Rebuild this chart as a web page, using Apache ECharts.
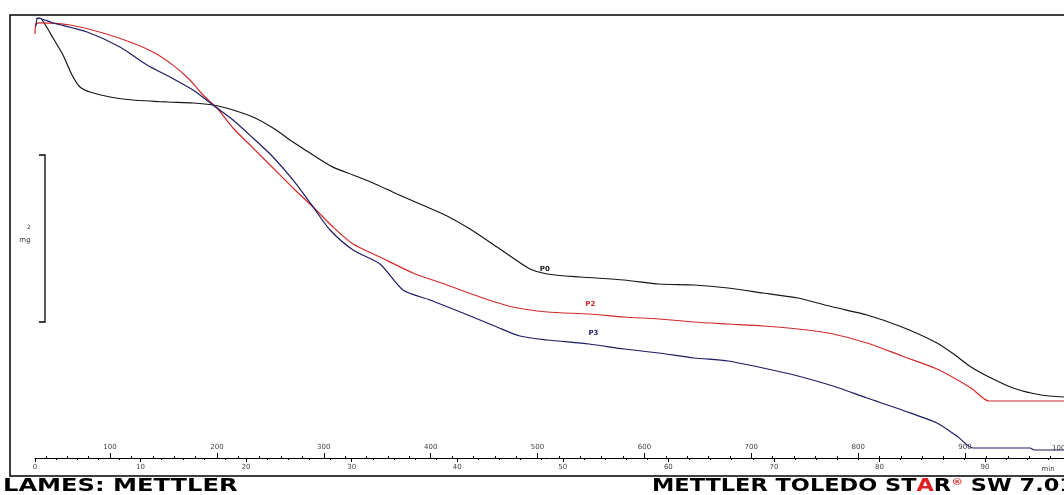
<!DOCTYPE html>
<html>
<head>
<meta charset="utf-8">
<script src="https://cdn.jsdelivr.net/npm/echarts@6/dist/echarts.min.js"></script>
<style>
  html, body { margin: 0; padding: 0; background: #fff; }
  #chart { width: 1064px; height: 495px; }
</style>
</head>
<body>
<div id="chart"></div>
<script>
// ---- data: [time (min), relative mass] ----
const curveP0 = [
  [0.09,100.23],[0.47,100.46],[1.04,98.63],[1.71,95.89],[2.65,92.01],[3.51,87.44],[4.26,84.70],
  [5.21,83.56],[7.11,82.42],[9.28,81.74],[12.50,81.28],[14.97,81.05],[16.86,80.59],[18.76,79.45],
  [20.65,77.85],[22.55,75.34],[24.44,72.15],[26.34,69.18],[28.23,66.41],[30.13,64.61],[32.02,62.79],
  [34.29,60.27],[36.47,57.99],[39.03,55.25],[41.21,52.28],[43.77,48.17],[45.28,45.66],[46.89,43.15],
  [48.50,42.01],[51.63,41.32],[55.80,40.64],[59.11,39.73],[62.43,39.50],[65.65,38.81],[68.97,37.67],
  [72.28,36.53],[75.60,34.47],[78.82,32.65],[82.13,29.91],[85.45,26.26],[87.15,23.52],[88.67,20.78],
  [90.38,18.49],[92.65,15.98],[95.30,14.38],[97.48,13.93]
];
const curveP2 = [
  [0.00,96.80],[0.09,99.09],[0.47,99.32],[3.32,98.86],[6.44,97.03],[9.00,94.98],[11.18,92.69],
  [13.07,89.70],[14.68,86.30],[15.92,82.88],[17.24,79.91],[18.76,75.34],[20.65,70.78],[22.55,66.21],
  [24.44,61.64],[26.34,57.31],[28.23,52.74],[30.13,48.86],[32.68,45.89],[35.81,42.24],[39.03,39.50],
  [42.16,36.76],[45.28,34.47],[48.50,33.33],[52.48,32.88],[55.80,32.19],[59.11,31.74],[62.43,31.05],
  [65.65,30.59],[68.97,30.14],[72.28,29.45],[75.60,28.31],[78.82,26.26],[82.13,23.29],[85.45,20.32],
  [88.67,15.98],[90.38,13.01],[97.48,13.01]
];
const curveP3 = [
  [0.09,98.63],[0.28,100.46],[1.71,99.32],[4.93,97.26],[8.05,93.84],[10.61,89.73],[12.79,86.99],
  [14.97,84.02],[16.86,80.59],[18.76,77.17],[20.65,73.06],[22.55,68.72],[24.44,63.47],[26.34,57.31],
  [27.95,52.05],[30.13,47.49],[32.68,44.29],[34.86,38.36],[37.42,36.07],[40.54,33.11],[43.77,29.91],
  [45.94,27.85],[48.50,26.94],[52.48,26.03],[55.80,24.89],[59.11,23.97],[62.43,22.83],[65.65,22.15],
  [68.97,20.55],[72.28,18.72],[75.60,16.44],[78.82,13.70],[82.13,10.96],[85.45,7.99],[87.44,4.79],
  [88.86,2.28],[94.27,2.28],[94.65,1.83],[97.48,1.83]
];
const curveNames = ['P0', 'P2', 'P3'];
const curveLabelAt = [[48.3, 42.0], [52.6, 32.9], [52.9, 26.0]];

// ---- axes ----
const timeLabels = [0, 10, 20, 30, 40, 50, 60, 70, 80, 90];
const tempLabels = [100, 200, 300, 400, 500, 600, 700, 800, 900];
const timeRange = [0, 97.48];
const tempRange = [29.8, 992.6];
const massRange = [0, 101.14];
const scaleBar = [31.05, 69.18];
const scaleBarText = ['2', 'mg'];

const tempMinor = [];
for (let t = 40; t <= 980; t += 20) if (t % 100 !== 0) tempMinor.push(t);

const colors = ['#151515', '#d02a2a', '#1c1c66'];
const labelDist = [1, 6, 7];

const chart = echarts.init(document.getElementById('chart'), null, { renderer: 'canvas' });

const labelFont = { fontSize: 7, color: '#444', fontFamily: 'DejaVu Sans', formatter: v => String(v) };

const option = {
  animation: false,
  backgroundColor: '#ffffff',
  grid: { left: 35, right: 0, top: 15, bottom: 37, containLabel: false },
  xAxis: [
    {
      type: 'value', position: 'bottom', min: timeRange[0], max: timeRange[1], interval: 10,
      axisLine: { show: true, lineStyle: { color: '#000', width: 1 } },
      axisTick: { show: true, length: 4, lineStyle: { color: '#000' } },
      minorTick: { show: true, splitNumber: 5, length: 2, lineStyle: { color: '#000' } },
      splitLine: { show: false }, minorSplitLine: { show: false },
      axisLabel: Object.assign({ customValues: timeLabels, margin: 6 }, labelFont)
    },
    {
      type: 'value', position: 'bottom', min: tempRange[0], max: tempRange[1],
      axisLine: { show: false },
      axisTick: { show: true, inside: true, length: 5, customValues: tempLabels, lineStyle: { color: '#000' } },
      splitLine: { show: false },
      axisLabel: Object.assign({ inside: true, customValues: tempLabels, margin: 7 }, labelFont)
    },
    {
      type: 'value', position: 'bottom', min: tempRange[0], max: tempRange[1],
      axisLine: { show: false },
      axisTick: { show: true, inside: true, length: 2, customValues: tempMinor, lineStyle: { color: '#000' } },
      splitLine: { show: false },
      axisLabel: { show: false }
    }
  ],
  yAxis: { type: 'value', min: massRange[0], max: massRange[1], show: false },
  series: [curveP0, curveP2, curveP3].map((d, i) => ({
    name: curveNames[i],
    type: 'line',
    xAxisIndex: 0,
    data: d,
    showSymbol: false,
    smooth: 0.25,
    lineStyle: { color: colors[i], width: 1.2 },
    itemStyle: { color: colors[i] },
    markPoint: {
      symbol: 'circle', symbolSize: 1,
      itemStyle: { color: 'rgba(0,0,0,0)' },
      label: {
        show: true, position: 'top', distance: labelDist[i], formatter: curveNames[i],
        fontSize: 7, fontWeight: 'bold', color: colors[i], fontFamily: 'DejaVu Sans'
      },
      data: [{ coord: curveLabelAt[i] }]
    }
  }))
};
chart.setOption(option);

// decorations derived from the axes
const yTop = chart.convertToPixel({ yAxisIndex: 0 }, scaleBar[1]);
const yBot = chart.convertToPixel({ yAxisIndex: 0 }, scaleBar[0]);
const xBar = 45;

chart.setOption({
  graphic: [
    { type: 'rect', shape: { x: 10, y: 15, width: 1100, height: 461 },
      style: { fill: 'none', stroke: '#000', lineWidth: 1.5 }, z: 10 },
    { type: 'polyline', shape: { points: [[xBar - 6, yTop], [xBar, yTop], [xBar, yBot], [xBar - 6, yBot]] },
      style: { fill: 'none', stroke: '#000', lineWidth: 1.3 }, z: 10 },
    { type: 'text', x: 29, y: 227, style: { text: scaleBarText[0], font: '6px "DejaVu Sans"', fill: '#333', align: 'center', verticalAlign: 'middle' }, z: 10 },
    { type: 'text', x: 25, y: 240, style: { text: scaleBarText[1], font: '7px "DejaVu Sans"', fill: '#333', align: 'center', verticalAlign: 'middle' }, z: 10 },
    { type: 'text', x: 1048, y: 469, style: { text: 'min', font: '7px "DejaVu Sans"', fill: '#444', align: 'center', verticalAlign: 'middle' }, z: 10 },
    { type: 'text', x: 1052, y: 448, style: { text: '1000', font: '7px "DejaVu Sans"', fill: '#444', align: 'left', verticalAlign: 'middle' }, z: 10 },
    { type: 'text', x: 3, y: 487, scaleX: 1.42,
      style: { text: 'LAMES: METTLER', font: 'bold 17px "DejaVu Sans"', fill: '#000', verticalAlign: 'middle' }, z: 10 },
    { type: 'text', x: 652, y: 487, scaleX: 1.32,
      style: {
        text: '{a|METTLER TOLEDO ST}{r|A}{a|R}{s|®}{a| SW 7.01}',
        verticalAlign: 'middle',
        rich: {
          a: { font: 'bold 17px "DejaVu Sans"', fill: '#000' },
          r: { font: 'bold 17px "DejaVu Sans"', fill: '#e02020' },
          s: { font: 'bold 9px "DejaVu Sans"', fill: '#e02020', verticalAlign: 'top', padding: [0, 0, 8, 0] }
        }
      }, z: 10 }
  ]
});
</script>
</body>
</html>
